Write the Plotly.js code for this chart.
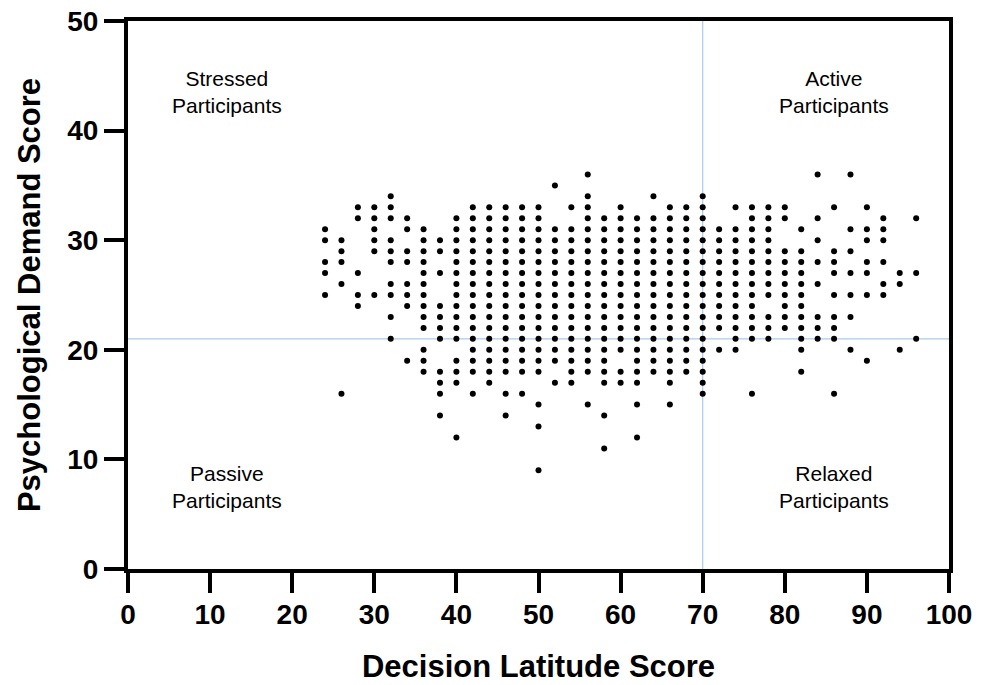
<!DOCTYPE html>
<html>
<head>
<meta charset="utf-8">
<script src="https://cdn.plot.ly/plotly-3.0.1.min.js"></script>
<style>html,body{margin:0;padding:0;background:#fff;}#chart{width:988px;height:685px;}</style>
</head>
<body>
<div id="chart"></div>
<script>
// Decision latitude score columns and the psychological demand scores found at each
const latitudeColumns = [24,26,28,30,32,34,36,38,40,42,44,46,48,50,52,54,56,58,60,62,64,66,68,70,72,74,76,78,80,82,84,86,88,90,92,94,96];
const demandByColumn = [
  [31,30,28,27,25],
  [30,29,28,26,16],
  [33,32,27,25,24],
  [33,32,31,30,29,25],
  [34,33,32,30,29,28,26,25,23,21],
  [32,31,29,28,26,25,24,19],
  [31,30,29,28,27,26,25,24,23,22,20,19,18],
  [30,29,27,24,23,22,21,18,17,16,14],
  [32,31,30,29,28,27,26,25,24,23,22,21,19,18,17,12],
  [33,32,31,30,29,28,27,26,25,24,23,22,21,20,19,18,16],
  [33,32,31,30,29,28,27,26,25,24,23,22,21,20,19,18,17],
  [33,32,31,30,29,28,27,26,25,24,23,22,21,20,19,18,16,14],
  [33,32,31,30,29,28,27,26,25,24,23,22,21,20,19,18,16],
  [33,32,31,30,29,28,27,26,25,24,23,22,21,20,19,18,15,13,9],
  [35,31,30,29,28,27,26,25,24,23,22,21,20,19,17],
  [33,31,30,29,28,27,26,25,24,23,22,21,20,19,18,17],
  [36,34,33,32,31,30,29,28,27,26,25,24,23,22,21,20,19,18,15],
  [32,31,30,29,28,27,26,25,24,23,22,21,20,19,18,17,14,11],
  [33,32,31,30,29,28,27,26,25,24,23,22,21,20,18,17],
  [32,31,30,29,28,27,26,25,24,23,22,21,20,19,18,17,15,12],
  [34,32,31,30,29,28,27,26,25,24,23,22,21,20,19,18],
  [33,32,31,30,29,28,27,26,25,24,23,22,21,20,19,18,17,15],
  [33,32,31,30,29,28,27,26,25,24,23,22,21,20,19,18],
  [34,33,32,31,30,29,28,27,26,25,24,23,22,21,20,19,18,17,16],
  [31,30,29,28,27,26,25,24,23,22,20],
  [33,31,30,29,28,27,26,25,24,23,22,21,20],
  [33,32,31,30,29,28,27,26,25,24,23,22,21,16],
  [33,32,31,30,29,28,27,26,25,23,22,21],
  [33,32,29,28,27,26,25,24,23,22],
  [31,29,28,27,26,25,24,23,22,21,20,18],
  [36,32,30,28,26,23,22,21],
  [33,29,28,27,25,23,22,21,16],
  [36,31,29,27,25,23,20],
  [33,31,30,28,27,25,19],
  [32,31,30,28,26,25],
  [27,26,20],
  [32,27,21]
];
// Quadrant cut-offs
const latitudeCut = 70;
const demandCut = 21;
// Quadrant labels
const quadrantLabels = ["Stressed<br>Participants","Active<br>Participants","Passive<br>Participants","Relaxed<br>Participants"];
const quadrantX = [12, 86, 12, 86];
const quadrantY = [43.5, 43.5, 7.5, 7.5];
const xTicks = [0,10,20,30,40,50,60,70,80,90,100];
const yTicks = [0,10,20,30,40,50];

const xs = [], ys = [];
latitudeColumns.forEach((x, i) => {
  demandByColumn[i].forEach(y => { xs.push(x); ys.push(y); });
});

const FONT = 'Liberation Sans, Arial, Helvetica, sans-serif';
const blue = '#a9cbec';

const trace = {
  type: 'scatter', mode: 'markers', x: xs, y: ys,
  marker: {color: '#000', size: 6, line: {width: 0}},
  hoverinfo: 'skip', showlegend: false, cliponaxis: false
};

const axisCommon = {
  showgrid: false, zeroline: false, showline: true, linecolor: '#000', linewidth: 4,
  mirror: true, ticks: 'outside', ticklen: 20, tickwidth: 4, tickcolor: '#000',
  tickfont: {family: FONT, size: 28, color: '#000', weight: 'bold'},
  fixedrange: true
};

const layout = {
  width: 988, height: 685,
  margin: {l: 128, r: 39, t: 21, b: 116},
  paper_bgcolor: '#fff', plot_bgcolor: '#fff',
  font: {family: FONT, color: '#000'},
  xaxis: Object.assign({}, axisCommon, {
    range: [0, 100], tickmode: 'array', tickvals: xTicks, ticktext: xTicks.map(String),
    ticklabelstandoff: -3,
    title: {text: 'Decision Latitude Score', font: {family: FONT, size: 31, color: '#000', weight: 'bold'}, standoff: 28}
  }),
  yaxis: Object.assign({}, axisCommon, {
    range: [0, 50], tickmode: 'array', tickvals: yTicks, ticktext: yTicks.map(String),
    title: {text: 'Psychological Demand Score', font: {family: FONT, size: 31, color: '#000', weight: 'bold'}, standoff: 18}
  }),
  shapes: [
    {type: 'line', xref: 'x', yref: 'paper', x0: latitudeCut, x1: latitudeCut, y0: 0, y1: 1, line: {color: blue, width: 1.2}, layer: 'below'},
    {type: 'line', xref: 'paper', yref: 'y', x0: 0, x1: 1, y0: demandCut, y1: demandCut, line: {color: blue, width: 1.2}, layer: 'below'}
  ],
  annotations: quadrantLabels.map((t, i) => ({
    text: t, x: quadrantX[i], y: quadrantY[i], xref: 'x', yref: 'y', showarrow: false,
    font: {family: FONT, size: 21, color: '#000'}, align: 'center'
  }))
};

Plotly.newPlot('chart', [trace], layout, {staticPlot: true, displayModeBar: false});
</script>
</body>
</html>
